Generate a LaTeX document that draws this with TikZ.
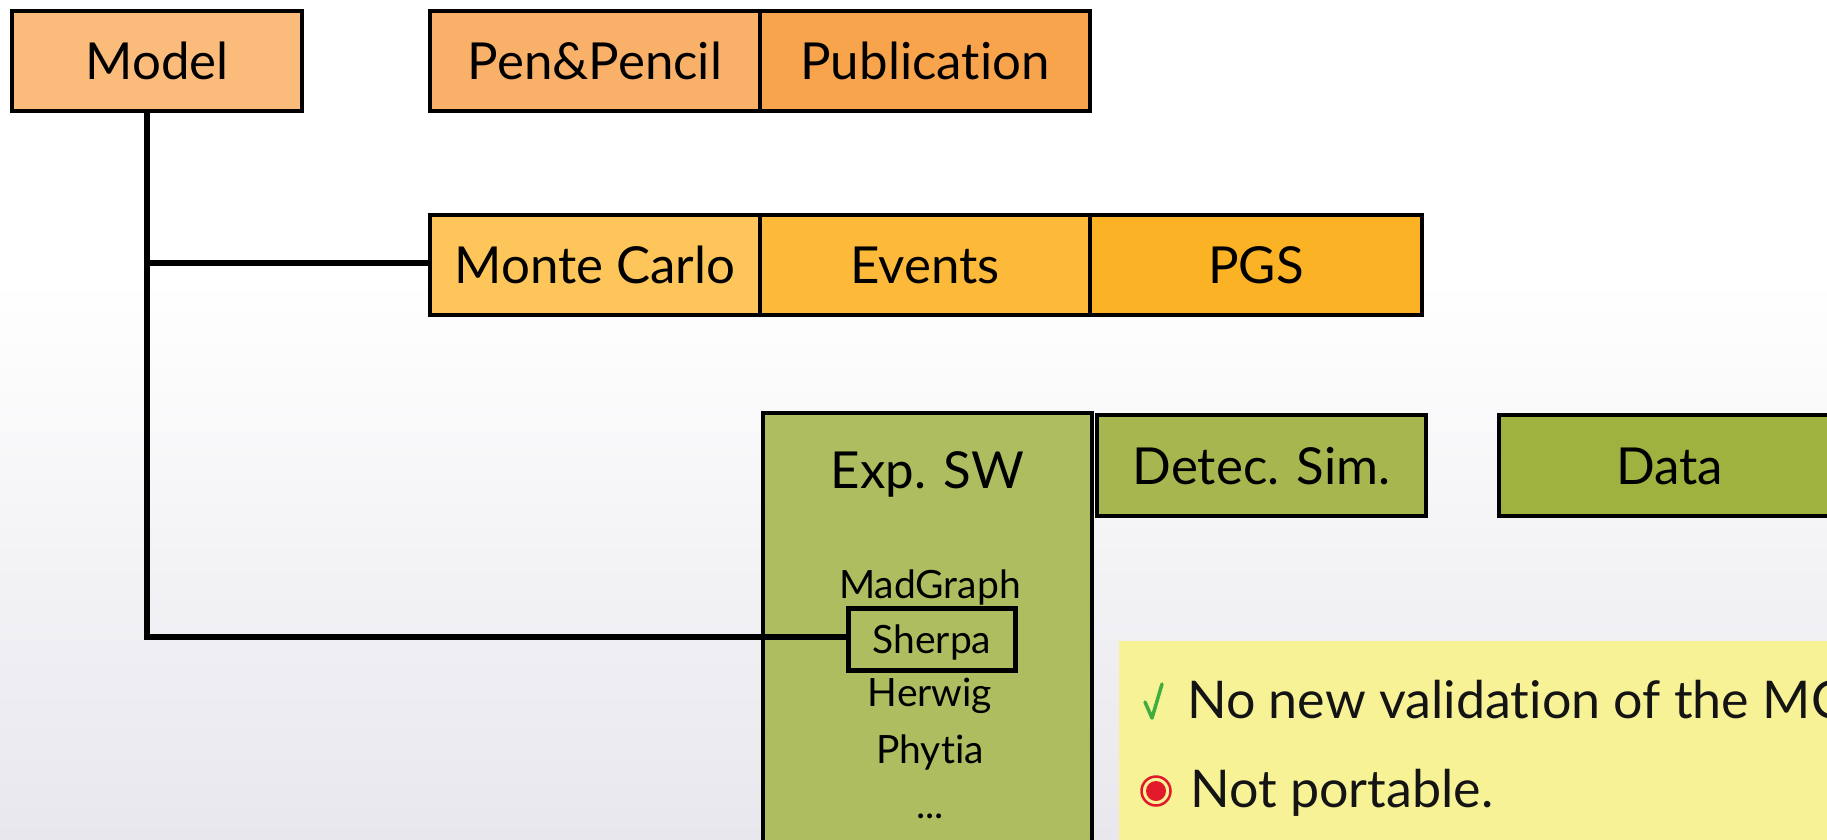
\documentclass[tikz,border=0pt]{standalone}
\usepackage{fontspec}
\setmainfont{Lato}[Ligatures={NoCommon}]
\usetikzlibrary{calc}

\definecolor{modelc}{HTML}{FBBB7A}
\definecolor{penc}{HTML}{F9B169}
\definecolor{pubc}{HTML}{F8A44C}
\definecolor{mcc}{HTML}{FEC65A}
\definecolor{evc}{HTML}{FDBA3A}
\definecolor{pgsc}{HTML}{FBB224}
\definecolor{expc}{HTML}{AEBD60}
\definecolor{detc}{HTML}{A8B64F}
\definecolor{datac}{HTML}{9FB13E}
\definecolor{notec}{HTML}{F7F296}
\definecolor{checkc}{HTML}{3FAE3C}
\definecolor{dotc}{HTML}{E2182B}
\definecolor{bgbot}{HTML}{E7E7ED}

\begin{document}
\begin{tikzpicture}[x=1pt,y=-1pt,
  box/.style={draw=black, line width=3.5pt, minimum height=100pt, inner sep=0pt,
    text height=37pt, text depth=0pt, font=\fontsize{51}{60}\selectfont},
  listtext/.style={anchor=base, inner sep=0pt, font=\fontsize{39}{44}\selectfont},
  notetext/.style={anchor=base west, inner sep=0pt, font=\fontsize{52}{60}\selectfont, text=black!92},
  link/.style={draw=black, line width=6pt}
]
\useasboundingbox (0,0) rectangle (1827,839);
\clip (0,0) rectangle (1827,839);

% backdrop
\fill[white] (0,0) rectangle (1827,839);
\shade[top color=white, bottom color=bgbot] (0,280) rectangle (1827,839);

% first row
\node[box, fill=modelc, minimum width=290pt] (model) at (157,61) {Model};
\node[box, fill=penc, minimum width=330pt] (pen) at (595,61) {Pen\&Pencil};
\node[box, fill=pubc, minimum width=330pt] (pub) at (925,61) {Publication};

% second row
\node[box, fill=mcc, minimum width=330pt] (mc) at (595,265) {Monte Carlo};
\node[box, fill=evc, minimum width=330pt] (ev) at (925,265) {Events};
\node[box, fill=pgsc, minimum width=332pt] (pgs) at (1256,265) {PGS};

% third row
\node[box, fill=expc, minimum width=329pt, minimum height=500pt, anchor=north] (exp) at (927.5,411) {};
\node[box, fill=detc, minimum width=329pt, minimum height=101pt] (det) at (1261.5,465.5) {Detec. Sim.};
\node[box, fill=datac, minimum width=341pt, minimum height=101pt] (data) at (1669.5,465.5) {Data};

\node[anchor=base, inner sep=0pt, font=\fontsize{51}{60}\selectfont] (explbl) at (927.5,488) {Exp. SW};
\node[listtext] (mg) at (930,598) {MadGraph};
\node[listtext] (hw) at (930,706) {Herwig};
\node[listtext] (py) at (930,763) {Phytia};
\node[listtext] (dots) at (930,818) {...};

% connectors
\coordinate (top) at ($(model.south)+(-10,0)$);
\coordinate (branch) at (top |- 0,263);
\coordinate (corner) at (top |- 0,637);

\node[draw=black, line width=5pt, minimum width=167pt, minimum height=62pt, inner sep=0pt,
  text height=28pt, text depth=0pt, font=\fontsize{39}{44}\selectfont] (sherpa) at (932,639.5) {Sherpa};

\draw[link, line cap=butt] (top) -- ($(corner)+(0,3)$);
\draw[link] (branch) -- (branch -| mc.west);
\draw[link] ($(corner)+(-3,0)$) -- (corner -| sherpa.west);

% note
\node[fill=notec, minimum width=800pt, minimum height=300pt, anchor=north west, inner sep=0pt] (note) at (1119,641) {};
\node[notetext] (l1) at (1187,718) {No new validation of the MC};
\node[notetext] (l2) at (1190,807) {Not portable.};

% bullets
\coordinate (chk) at ($(l1.base west)+(-35,0)$);
\draw[checkc, line width=3.5pt, line cap=round, line join=round]
  ($(chk)+(-7,-16)$) -- (chk) -- ($(chk)+(10,-34)$);
\coordinate (dot) at ($(l2.base west)+(-34,-16)$);
\fill[dotc] (dot) circle (10);
\draw[dotc, line width=2.5pt] (dot) circle (14.5);
\end{tikzpicture}
\end{document}
